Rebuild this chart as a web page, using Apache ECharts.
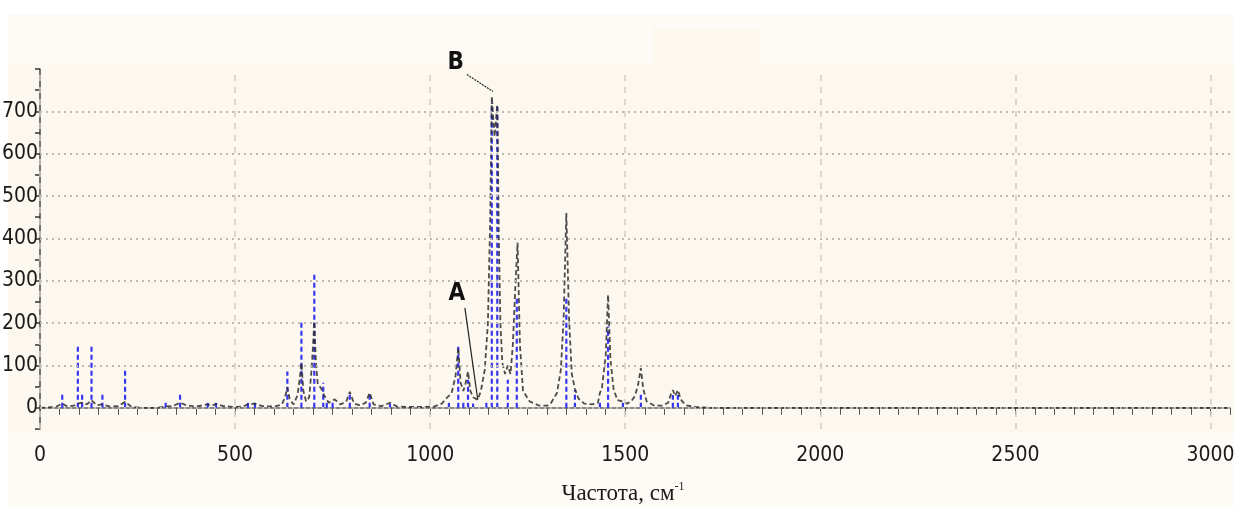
<!doctype html>
<meta charset="utf-8">
<title>Спектр</title>
<style>
	html, body { margin: 0; padding: 0; background: #ffffff; }
	#chart { width: 1234px; height: 507px; }
</style>
<div id="chart"></div>
<script src="https://cdn.jsdelivr.net/npm/echarts@6/dist/echarts.min.js"></script>
<script>
	// stick spectrum (blue): position, cm-1 / intensity
	const stickPos = [57, 97, 108, 132, 160, 218, 322, 359, 430, 451, 533, 551, 634, 670, 703, 726, 735, 750, 794, 845, 897,
		1048, 1072, 1085, 1097, 1110, 1144, 1158, 1172, 1199, 1222, 1349, 1371, 1435, 1456, 1494, 1540, 1622, 1635];
	const stickInt = [35, 145, 38, 151, 38, 90, 12, 38, 12, 12, 12, 12, 86, 204, 314, 59, 15, 15, 35, 38, 10,
		12, 145, 15, 66, 10, 15, 720, 715, 66, 263, 263, 42, 15, 192, 15, 38, 30, 30];

	// broadened spectrum (black dashed)
	const curveX = [0, 40, 57, 70, 90, 97, 108, 120, 132, 145, 160, 180, 200, 218, 235, 260, 300, 322, 340, 359, 375, 400,
		430, 440, 451, 470, 500, 520, 533, 551, 570, 600, 620, 628, 634, 640, 650, 660, 666, 670, 675, 682, 690, 696, 700,
		703, 707, 712, 720, 728, 740, 755, 770, 785, 794, 805, 820, 835, 845, 855, 875, 897, 915, 940, 980, 1010, 1030,
		1042, 1055, 1065, 1072, 1078, 1085, 1090, 1097, 1103, 1110, 1122, 1130, 1140, 1148, 1154, 1158, 1165, 1172, 1176,
		1180, 1185, 1192, 1199, 1206, 1212, 1218, 1224, 1230, 1238, 1255, 1280, 1300, 1310, 1325, 1335, 1342, 1349, 1356,
		1363, 1371, 1380, 1395, 1415, 1430, 1435, 1440, 1450, 1456, 1462, 1470, 1480, 1494, 1505, 1515, 1525, 1533, 1540,
		1546, 1555, 1575, 1595, 1610, 1617, 1622, 1628, 1635, 1642, 1655, 1680, 1720, 3050];
	const curveY = [0, 2, 10, 3, 6, 10, 12, 8, 18, 6, 8, 3, 4, 14, 2, 0, 0, 3, 4, 12, 6, 3,
		8, 5, 9, 4, 2, 3, 8, 10, 4, 3, 8, 25, 48, 20, 8, 30, 70, 106, 40, 15, 25, 90, 150,
		204, 110, 55, 47, 30, 12, 20, 8, 15, 38, 10, 6, 12, 36, 8, 4, 12, 3, 2, 2, 3, 10,
		23, 35, 75, 142, 60, 40, 55, 86, 40, 25, 19, 40, 90, 200, 450, 735, 640, 715, 400,
		200, 106, 80, 100, 80, 150, 280, 390, 150, 40, 15, 5, 5, 12, 35, 90, 210, 460, 210,
		80, 45, 22, 10, 8, 12, 35, 45, 125, 267, 115, 45, 18, 15, 10, 15, 28, 55, 94,
		45, 15, 5, 5, 12, 32, 42, 28, 42, 20, 6, 2, 0, 0];

	const yGrid = [0, 100, 200, 300, 400, 500, 600, 700];
	const xGrid = [0, 500, 1000, 1500, 2000, 2500, 3000];

	const labelFont = "'DejaVu Sans', sans-serif";

	var sticks = stickPos.map(function (p, i) { return [p, stickInt[i]]; });
	var curve = curveX.map(function (p, i) { return [p, curveY[i]]; });

	var gridLines = yGrid.map(function (v) {
		return { yAxis: v, lineStyle: { color: '#bdbab4', width: 2, type: [2, 4] } };
	}).concat(xGrid.map(function (v) {
		return { xAxis: v, lineStyle: { color: '#cfccc6', width: 1.5, type: [6, 6] } };
	}));

	var chart = echarts.init(document.getElementById('chart'));
	chart.setOption({
		animation: false,
		backgroundColor: '#ffffff',
		graphic: [
			{ type: 'rect', z: -10, shape: { x: 8, y: 14, width: 1226, height: 493 }, style: { fill: '#fefbf7' } },
			{ type: 'rect', z: -9, shape: { x: 8, y: 65, width: 1226, height: 367 }, style: { fill: '#fcf8ef' } },
			{ type: 'rect', z: -9, shape: { x: 653, y: 28, width: 107, height: 37 }, style: { fill: '#fcf8ee' } }
		],
		grid: { left: 40, right: 4, top: 69, bottom: 78, outerBoundsMode: 'none', containLabel: false },
		xAxis: {
			type: 'value',
			min: 0,
			max: 3050,
			interval: 500,
			offset: 3,
			name: '{a|Частота, см}{s|-1}',
			nameLocation: 'middle',
			nameGap: 49,
			nameTextStyle: {
				padding: [0, 24, 0, 0],
				rich: {
					a: { fontFamily: "'Liberation Serif', serif", fontStyle: 'condensed', fontSize: 23, color: '#1a1a1a' },
					s: { fontFamily: "'Liberation Serif', serif", fontSize: 12, color: '#1a1a1a', verticalAlign: 'top', padding: [0, 0, 13, 0] }
				}
			},
			axisLine: { lineStyle: { color: '#8a8a8a', width: 2 } },
			axisTick: { length: 7, lineStyle: { color: '#555', width: 1 } },
			minorTick: { show: true, splitNumber: 10, length: 7, lineStyle: { color: '#555', width: 1 } },
			splitLine: { show: false },
			axisLabel: {
				margin: 13,
				fontFamily: labelFont,
				fontStyle: 'condensed',
				fontSize: 21,
				color: '#1a1a1a',
				showMaxLabel: false,
				formatter: function (v) { return v % 500 === 0 ? String(v) : ''; }
			}
		},
		yAxis: {
			type: 'value',
			min: -50,
			max: 800,
			interval: 50,
			offset: 5,
			axisLine: { show: true, lineStyle: { color: '#4a4a4a', width: 1.5 } },
			axisTick: { show: true, length: 5, lineStyle: { color: '#333', width: 1.5 } },
			splitLine: { show: false },
			axisLabel: {
				margin: -3,
				fontFamily: labelFont,
				fontStyle: 'condensed',
				fontSize: 21,
				color: '#1a1a1a',
				formatter: function (v) { return (v % 100 === 0 && v >= 0 && v <= 700) ? String(v) : ''; }
			}
		},
		series: [
			{
				name: 'grid',
				type: 'line',
				data: [[0, 0]],
				symbol: 'none',
				lineStyle: { opacity: 0 },
				silent: true,
				z: 1,
				markLine: {
					silent: true,
					symbol: ['none', 'none'],
					label: { show: false },
					data: gridLines
				}
			},
			{
				name: 'sticks',
				type: 'custom',
				z: 3,
				data: sticks,
				encode: { x: 0, y: 1 },
				renderItem: function (params, api) {
					var top = api.coord([api.value(0), api.value(1)]);
					var base = api.coord([api.value(0), 0]);
					return {
						type: 'line',
						shape: { x1: base[0], y1: base[1], x2: top[0], y2: top[1] },
						style: { stroke: '#3636f2', lineWidth: 2.2, lineDash: [5, 3] }
					};
				}
			},
			{
				name: 'spectrum',
				type: 'line',
				z: 4,
				data: curve,
				symbol: 'none',
				lineStyle: { color: '#2e2e2e', width: 1.8, type: [5, 3], opacity: 0.85 },
				markLine: {
					silent: true,
					symbol: ['none', 'none'],
					label: { show: false },
					lineStyle: { color: '#222', width: 1.2, type: 'solid' },
					data: [
						[{ coord: [1094, 787] }, { coord: [1161, 747], lineStyle: { type: [2, 1] } }],
						[{ coord: [1089, 236] }, { coord: [1122, 19] }]
					]
				},
				markPoint: {
					symbol: 'circle',
					symbolSize: 0,
					label: {
						show: true,
						fontFamily: labelFont,
						fontStyle: 'condensed',
						fontWeight: 'bold',
						fontSize: 24,
						color: '#111'
					},
					data: [
						{ coord: [1094, 787], value: 'B', label: { offset: [-11, -12] } },
						{ coord: [1089, 236], value: 'A', label: { offset: [-8, -14] } }
					]
				}
			}
		]
	});
</script>
